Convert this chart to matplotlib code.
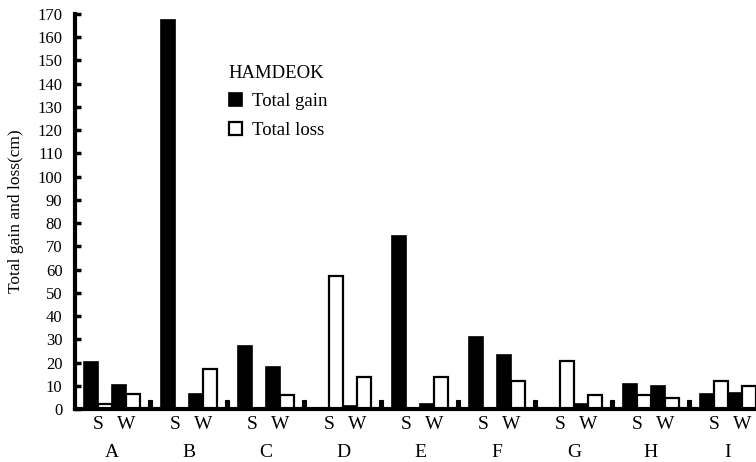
import numpy as np
import matplotlib
matplotlib.use("Agg")
import matplotlib.pyplot as plt

plt.rcParams['font.family'] = ['Liberation Serif', 'DejaVu Serif']

# datos
grupos = ['A', 'B', 'C', 'D', 'E', 'F', 'G', 'H', 'I']
s_gain = [20.3, 167.4, 27.2, 0, 74.5, 31, 0, 10.7, 6.3]
s_loss = [2.3, 0, 0, 57.2, 0, 0, 20.6, 6, 12]
w_gain = [10.2, 6.4, 18, 1.3, 2.3, 23.2, 2, 9.9, 7]
w_loss = [6.3, 17.2, 6, 13.8, 13.8, 12.2, 6, 4.9, 9.9]
separador = [3.7, 3.7, 3.7, 3.7, 3.7, 3.7, 3.7, 3.7]
estaciones = ['S', 'W']

paso = 5.5
base = np.arange(len(grupos)) * paso

fig = plt.figure(figsize=(7.56, 4.62), dpi=100)
ax = fig.add_axes([0.0992, 0.1147, 0.9008, 0.855])

ax.bar(base + 0.5, s_gain, width=1, color='black', edgecolor='black', linewidth=1.2, label='Total gain')
ax.bar(base + 1.5, s_loss, width=1, color='white', edgecolor='black', linewidth=1.6, label='Total loss')
ax.bar(base + 2.5, w_gain, width=1, color='black', edgecolor='black', linewidth=1.2)
ax.bar(base + 3.5, w_loss, width=1, color='white', edgecolor='black', linewidth=1.6)
ax.bar(base[:len(separador)] + 4.71, separador, width=0.28, color='black', edgecolor='black', linewidth=0.8)

ax.set_xlim(-0.64, 48)
ax.set_ylim(0, 170)
ax.set_yticks(np.arange(0, 171, 10))
ax.tick_params(axis='y', direction='in', length=4.5, width=2.5, labelsize=12, pad=9)

# etiquetas S / W
posiciones = []
etiquetas = []
for b in base:
    posiciones += [b + 1, b + 3]
    etiquetas += estaciones
ax.set_xticks(posiciones)
ax.set_xticklabels(etiquetas, fontsize=14)
ax.tick_params(axis='x', length=0, pad=5)

for b, g in zip(base, grupos):
    ax.text(b + 2, -0.109, g, transform=ax.get_xaxis_transform(), ha='center', va='center', fontsize=14)

for lado in ['top', 'right']:
    ax.spines[lado].set_visible(False)
ax.spines['left'].set_linewidth(3)
ax.spines['bottom'].set_linewidth(3)

ax.set_ylabel("Total gain and loss(cm)", fontsize=12.5, labelpad=10)

leg = ax.legend(title='HAMDEOK', loc='upper left', bbox_to_anchor=(0.28, 0.896),
                bbox_transform=fig.transFigure, frameon=False, fontsize=13.5,
                title_fontsize=13.5, handlelength=0.7, handleheight=0.7,
                handletextpad=0.55, labelspacing=0.6)
leg._legend_box.align = 'left'

plt.savefig("out.png", dpi=100)
